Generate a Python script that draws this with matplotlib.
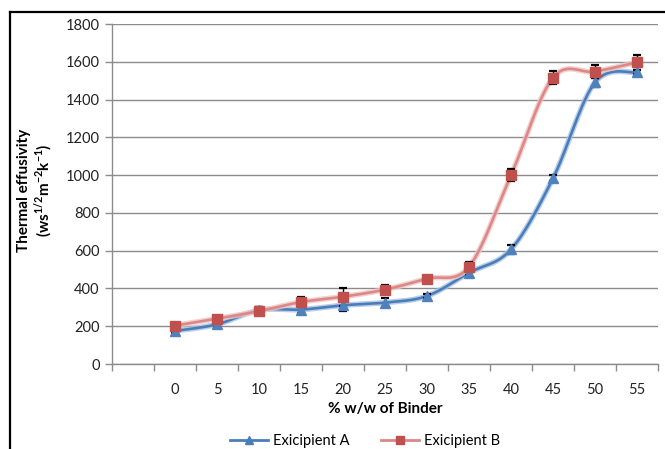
import numpy as np
import matplotlib
matplotlib.use("Agg")
import matplotlib.pyplot as plt
from matplotlib.lines import Line2D

plt.rcParams["font.family"] = ["Lato", "DejaVu Sans"]
plt.rcParams["mathtext.fontset"] = "custom"
plt.rcParams["mathtext.rm"] = "Lato"
plt.rcParams["mathtext.bf"] = "Lato:bold"

# % w/w of binder, thermal effusivity with error bars
binder = ["0", "5", "10", "15", "20", "25", "30", "35", "40", "45", "50", "55"]
exc_a = [175, 210, 285, 288, 311, 325, 360, 483, 607, 983, 1491, 1544]
exc_b = [203, 240, 280, 328, 356, 394, 452, 515, 1000, 1516, 1548, 1597]
err_a = [10, 12, 15, 18, 29, 24, 12, 12, 25, 15, 24, 10]
err_b = [12, 15, 20, 28, 48, 24, 5, 25, 33, 33, 35, 38]

BLUE, RED = "#4A7EBB", "#C0504D"
GRID = "#8C8C8C"


def smooth(xs, ys, n=30):
    # catmull-rom through the points, like the smoothed line option in excel
    p = np.column_stack([xs, ys]).astype(float)
    p = np.vstack([p[0], p, p[-1]])
    out = []
    t = np.linspace(0, 1, n)[:, None]
    for i in range(1, len(p) - 2):
        p0, p1, p2, p3 = p[i - 1], p[i], p[i + 1], p[i + 2]
        c1 = p1 + (p2 - p0) / 6
        c2 = p2 - (p3 - p1) / 6
        seg = ((1 - t) ** 3) * p1 + 3 * ((1 - t) ** 2) * t * c1 + 3 * (1 - t) * t ** 2 * c2 + t ** 3 * p2
        out.append(seg if i == 1 else seg[1:])
    seg = np.vstack(out)
    return seg[:, 0], seg[:, 1]


fig = plt.figure(figsize=(6.65, 4.49), dpi=100)
ax = fig.add_axes([112 / 665, 1 - 364 / 449, 546 / 665, 340 / 449])

# category 0 is left empty, the data starts in the second slot
x = np.arange(1, len(binder) + 1)

# lines with a soft underlay
sx, sy = smooth(x, exc_a)
ax.plot(sx, sy, color="#A9C2E3", lw=4.0, alpha=0.8, zorder=3, solid_capstyle="round")
ax.plot(sx, sy, color=BLUE, lw=1.9, zorder=3.1)
sx, sy = smooth(x, exc_b)
ax.plot(sx, sy, color="#F0C6C5", lw=4.0, alpha=0.8, zorder=3.2, solid_capstyle="round")
ax.plot(sx, sy, color="#DC8886", lw=1.9, zorder=3.3)

ax.errorbar(x, exc_a, yerr=err_a, fmt="none", ecolor="black", elinewidth=1.0,
            capsize=3, capthick=1.6, zorder=4)
ax.errorbar(x, exc_b, yerr=err_b, fmt="none", ecolor="black", elinewidth=1.0,
            capsize=3, capthick=1.6, zorder=4)

ax.plot(x, exc_a, ls="none", marker="^", ms=7, color="#4F81BD", zorder=5)
ax.plot(x, exc_b, ls="none", marker="s", ms=6.5, color=RED, zorder=5)

ax.set_xlim(-0.5, len(binder) + 0.5)
ax.set_ylim(0, 1800)
ax.set_yticks(np.arange(0, 1801, 200))
ax.yaxis.grid(True, color=GRID, lw=1.0)
ax.set_axisbelow(True)

ax.set_xticks(x)
ax.set_xticklabels(binder)
ax.set_xticks(np.arange(-0.5, len(binder) + 1, 1), minor=True)
ax.tick_params(axis="x", which="major", length=0, pad=14, labelsize=10.5, colors="#222222")
ax.tick_params(axis="x", which="minor", length=5, width=1, color=GRID, direction="out")
ax.tick_params(axis="y", length=5, width=1, color=GRID, pad=4, labelsize=10.5, labelcolor="#222222")

for s in ("top", "right"):
    ax.spines[s].set_visible(False)
for s in ("left", "bottom"):
    ax.spines[s].set_color(GRID)
    ax.spines[s].set_linewidth(1.0)

fig.text(385 / 665, 1 - 409 / 449, "% w/w of Binder", ha="center", va="center",
         fontsize=11, fontweight="bold")
fig.text(36 / 665, 1 - 190 / 449,
         "Thermal effusivity\n(ws$^{\\mathbf{1/2}}$m$^{\\mathbf{-2}}$k$^{\\mathbf{-1}}$)",
         ha="center", va="center", rotation=90, fontsize=11, fontweight="bold",
         multialignment="center", linespacing=1.1)

handles = [Line2D([], [], color=BLUE, lw=2, marker="^", ms=6),
           Line2D([], [], color="#DC8886", lw=2, marker="s", ms=5.5, mfc=RED, mec=RED)]
fig.legend(handles, ["Exicipient A", "Exicipient B"], loc="center",
           bbox_to_anchor=(365 / 665, 1 - 441 / 449), ncol=2, frameon=False,
           fontsize=10.5, handlelength=2.6, handletextpad=0.3, columnspacing=2.2)

# outer frame edges
fig.add_artist(Line2D([10 / 665, 10 / 665], [0, 1 - 12 / 449], color="black", lw=1.6))
fig.add_artist(Line2D([10 / 665, 1], [1 - 12 / 449, 1 - 12 / 449], color="black", lw=1.6))

fig.savefig("out.png", dpi=100)
